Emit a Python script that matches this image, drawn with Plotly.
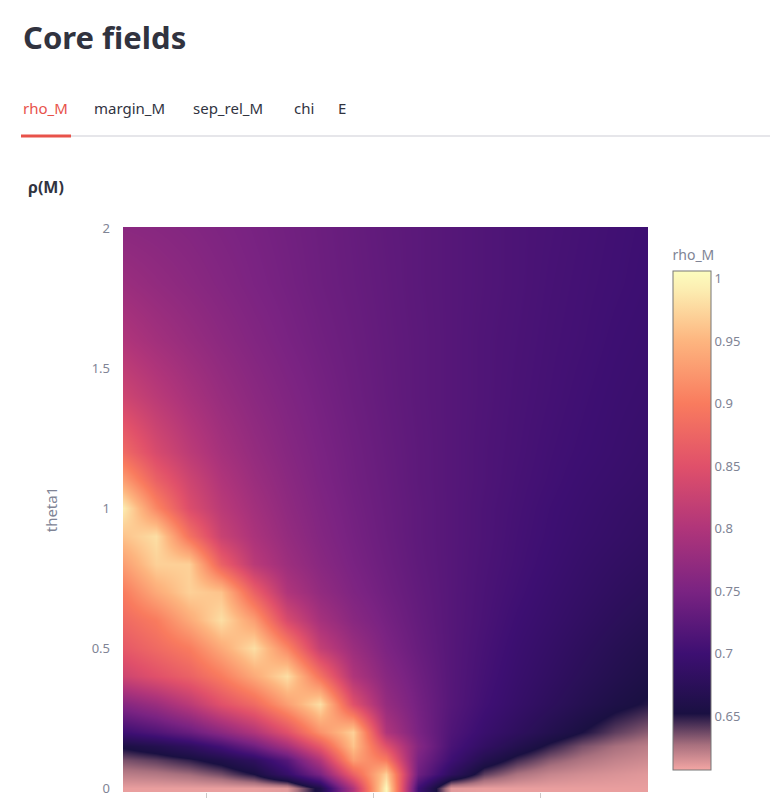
import plotly.graph_objects as go

# theta2 columns, theta1 rows, rho_M values
theta2 = [0.0, 0.196, 0.393, 0.589, 0.785, 0.982, 1.178, 1.374, 1.571,
          1.767, 1.963, 2.160, 2.356, 2.553, 2.749, 2.945, 3.142]
theta1 = [0.0, 0.05, 0.1, 0.15, 0.2, 0.3, 0.4, 0.5, 0.6, 0.7, 0.8, 0.9,
          1.0, 1.1, 1.2, 1.4, 1.6, 1.8, 2.0]
rho_M = [
    [0.61, 0.61, 0.61, 0.61, 0.61, 0.612, 0.66, 0.80, 1.0, 0.70, 0.612, 0.61, 0.61, 0.61, 0.61, 0.61, 0.61],
    [0.622, 0.624, 0.628, 0.636, 0.652, 0.69, 0.75, 0.87, 0.97, 0.74, 0.68, 0.64, 0.626, 0.619, 0.616, 0.614, 0.612],
    [0.635, 0.64, 0.648, 0.66, 0.68, 0.72, 0.80, 0.93, 0.90, 0.75, 0.70, 0.665, 0.645, 0.632, 0.625, 0.62, 0.617],
    [0.655, 0.665, 0.68, 0.705, 0.74, 0.79, 0.86, 0.96, 0.85, 0.76, 0.71, 0.685, 0.665, 0.648, 0.635, 0.627, 0.622],
    [0.70, 0.715, 0.735, 0.765, 0.80, 0.85, 0.92, 0.97, 0.80, 0.75, 0.715, 0.695, 0.68, 0.665, 0.652, 0.64, 0.632],
    [0.76, 0.78, 0.81, 0.85, 0.88, 0.93, 0.98, 0.85, 0.775, 0.745, 0.72, 0.703, 0.69, 0.678, 0.667, 0.657, 0.65],
    [0.83, 0.85, 0.87, 0.90, 0.94, 0.98, 0.89, 0.80, 0.762, 0.74, 0.72, 0.706, 0.694, 0.684, 0.674, 0.665, 0.657],
    [0.86, 0.88, 0.90, 0.94, 0.98, 0.91, 0.82, 0.78, 0.752, 0.735, 0.72, 0.708, 0.697, 0.688, 0.679, 0.67, 0.663],
    [0.88, 0.90, 0.94, 0.98, 0.93, 0.84, 0.79, 0.763, 0.746, 0.732, 0.72, 0.71, 0.70, 0.692, 0.684, 0.676, 0.669],
    [0.90, 0.94, 0.97, 0.96, 0.87, 0.80, 0.772, 0.754, 0.741, 0.73, 0.72, 0.711, 0.703, 0.695, 0.688, 0.681, 0.675],
    [0.93, 0.97, 0.97, 0.87, 0.81, 0.782, 0.763, 0.749, 0.738, 0.728, 0.72, 0.712, 0.705, 0.698, 0.691, 0.685, 0.68],
    [0.96, 0.98, 0.89, 0.825, 0.795, 0.774, 0.758, 0.746, 0.736, 0.727, 0.72, 0.713, 0.706, 0.70, 0.694, 0.689, 0.684],
    [0.99, 0.91, 0.845, 0.81, 0.787, 0.769, 0.755, 0.744, 0.735, 0.727, 0.72, 0.713, 0.707, 0.701, 0.696, 0.691, 0.687],
    [0.93, 0.87, 0.83, 0.80, 0.78, 0.765, 0.752, 0.742, 0.734, 0.726, 0.72, 0.714, 0.708, 0.703, 0.698, 0.694, 0.69],
    [0.88, 0.84, 0.812, 0.79, 0.774, 0.761, 0.75, 0.741, 0.733, 0.726, 0.72, 0.714, 0.709, 0.704, 0.70, 0.696, 0.692],
    [0.83, 0.81, 0.792, 0.777, 0.765, 0.755, 0.746, 0.738, 0.731, 0.725, 0.72, 0.715, 0.71, 0.706, 0.702, 0.698, 0.695],
    [0.80, 0.787, 0.776, 0.766, 0.757, 0.749, 0.742, 0.736, 0.730, 0.725, 0.72, 0.715, 0.711, 0.707, 0.704, 0.70, 0.697],
    [0.78, 0.772, 0.765, 0.758, 0.751, 0.745, 0.739, 0.734, 0.729, 0.724, 0.72, 0.716, 0.712, 0.708, 0.705, 0.702, 0.699],
    [0.765, 0.762, 0.758, 0.753, 0.748, 0.743, 0.738, 0.733, 0.728, 0.724, 0.72, 0.716, 0.712, 0.709, 0.706, 0.703, 0.70],
]
tabs = ["rho_M", "margin_M", "sep_rel_M", "chi", "E"]
tab_x = [21, 92, 191, 292, 336]

# magma with a pink tail below ~0.65
colorscale = [
    [0.0, "#f4a6a4"], [0.05, "#a8707e"], [0.113, "#1a1042"],
    [0.233, "#3d0f72"], [0.358, "#7a2382"], [0.484, "#b0357a"],
    [0.609, "#e0506a"], [0.734, "#f97b5e"], [0.86, "#fdb57f"],
    [0.96, "#fcecb0"], [1.0, "#fcfdbf"],
]

# page offset of the browser body
OFF = 8
W, H = 782 - OFF, 900
L, R, T, B = 123, 648, 227, 792


def px(x):
    return (x - L) / (R - L)


def py(y):
    return (B - y) / (B - T)


fig = go.Figure(go.Heatmap(
    x=theta2, y=theta1, z=rho_M,
    colorscale=colorscale, zmin=0.607, zmax=1.006, zsmooth="best",
    colorbar=dict(
        title=dict(text="rho_M", font=dict(size=14, color="#808495")),
        x=px(673), xanchor="left", y=py(780), yanchor="bottom",
        thickness=38, len=543, lenmode="pixels",
        outlinecolor="#777", outlinewidth=1,
        tickvals=[0.65, 0.7, 0.75, 0.8, 0.85, 0.9, 0.95, 1],
        ticktext=["0.65", "0.7", "0.75", "0.8", "0.85", "0.9", "0.95", "1"],
        tickfont=dict(size=13, color="#808495"), ticklen=0, xpad=0,
    ),
))

fig.update_xaxes(range=[0, 3.1416], showgrid=False, zeroline=False,
                 tick0=0.5, dtick=1, ticks="outside", tickcolor="#ccc",
                 showticklabels=False)
fig.update_yaxes(range=[-0.014, 2.004], showgrid=False, zeroline=False,
                 tickvals=[0, 0.5, 1, 1.5, 2], ticktext=["0", "0.5", "1", "1.5", "2"],
                 ticks="", ticklabelstandoff=12,
                 tickfont=dict(size=13, color="#808495"),
                 title=dict(text="theta1", font=dict(size=15, color="#808495"), standoff=30))

ann = [
    dict(text="<b>Core fields</b>", x=px(21), y=py(37), xanchor="left", yanchor="middle",
         font=dict(size=31, color="#31333f", family="Noto Sans")),
    dict(text="<b>ρ(M)</b>", x=px(26), y=py(187), xanchor="left", yanchor="middle",
         font=dict(size=16, color="#31333f", family="Noto Sans")),
]
for name, x in zip(tabs, tab_x):
    ann.append(dict(text=name, x=px(x), y=py(108), xanchor="left", yanchor="middle",
                    font=dict(size=15, family="Noto Sans",
                              color="#e8524a" if name == "rho_M" else "#31333f")))
for a in ann:
    a.update(xref="paper", yref="paper", showarrow=False)

shapes = [
    dict(type="line", x0=px(21), x1=px(770), y0=py(136), y1=py(136),
         line=dict(color="#e6e6ea", width=2)),
    dict(type="line", x0=px(21), x1=px(71), y0=py(136), y1=py(136),
         line=dict(color="#e8524a", width=3)),
]
for s in shapes:
    s.update(xref="paper", yref="paper")

fig.update_layout(
    width=W, height=H,
    margin=dict(l=L - OFF, r=W - (R - OFF), t=T - OFF, b=H - (B - OFF)),
    paper_bgcolor="white", plot_bgcolor="white",
    font=dict(family="Noto Sans"), annotations=ann, shapes=shapes,
)

fig.write_html("out.html")
